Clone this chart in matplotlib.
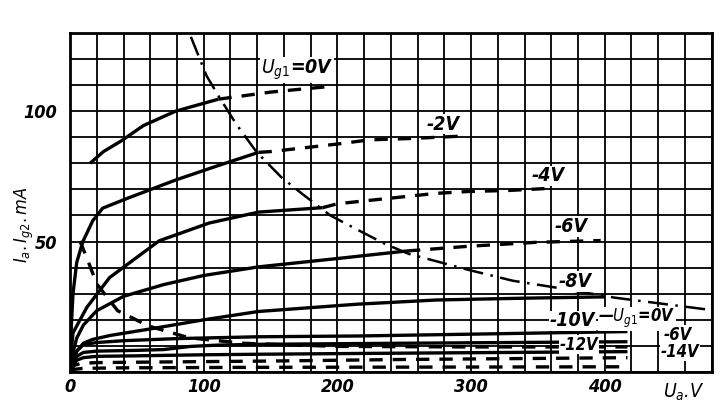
import numpy as np
import matplotlib.pyplot as plt

# анодные характеристики, сплошные участки (Ua в В, Ia в мА)
ua_0 = [15, 25, 38, 55, 79, 111]
ia_0 = [80, 84.5, 88.5, 94.5, 100, 104.6]
ua_2 = [0, 1, 2.2, 5, 9.6, 17, 24.4, 42, 79, 110, 141]
ia_2 = [0, 18, 30, 42, 50, 58, 62.8, 66.4, 73.6, 79, 84.2]
ua_4 = [0, 1, 2.2, 12.6, 29.6, 66.7, 104, 141, 189]
ia_4 = [0, 8, 15, 24.8, 36.2, 50.3, 57.1, 61.3, 63]
ua_6 = [0, 2, 5, 10, 20, 40, 70, 100, 141, 200, 252]
ia_6 = [0, 7, 13, 18, 23.5, 29, 33.5, 37, 40.3, 43.5, 46.4]
ua_8 = [0, 2, 5, 10, 17, 30, 60, 100, 141, 215, 274, 340, 400]
ia_8 = [0, 4, 8, 11, 12.5, 14, 16.5, 20, 23.2, 26, 27.6, 28.3, 28.8]
ua_10 = [0, 2, 5, 10, 20, 40, 80, 141, 215, 300, 417]
ia_10 = [0, 4, 8, 10.5, 11.3, 12, 12.8, 13.5, 13.8, 14.5, 15.5]
ua_12 = [0, 2, 5, 10, 20, 50, 70, 90, 110, 141, 215, 300, 417]
ia_12 = [0, 3, 6, 7.5, 8, 8.3, 8.6, 9.8, 10.3, 10.6, 10.9, 11.2, 11.6]
ua_14 = [0, 2, 5, 10, 20, 50, 100, 141, 215, 300, 417]
ia_14 = [0, 2.5, 4.5, 5.5, 6, 6.2, 6.6, 6.8, 7.1, 7.4, 7.8]

# продолжения за пределом допустимой мощности (пунктир)
ua_0_ext = [111, 124, 150, 170, 195]
ia_0_ext = [104.6, 105.5, 107.3, 108.3, 109.5]
ua_2_ext = [141, 150, 176, 200, 224, 254, 296]
ia_2_ext = [84.2, 84.5, 86, 87.4, 89, 89.5, 90.5]
ua_4_ext = [189, 200, 274, 298, 328, 355]
ia_4_ext = [63, 64.5, 68.5, 69.2, 69.6, 70.3]
ua_6_ext = [252, 265, 298, 348, 397]
ia_6_ext = [46.4, 46.9, 48.2, 49.7, 50.4]

# ток второй сетки (пунктир)
ua_g2_0 = [7.4, 12.6, 20, 35.6, 59, 89, 130, 200, 300, 417]
ig2_0 = [50.2, 43.7, 33.8, 23.5, 17.6, 13.1, 11, 9.8, 9.6, 9.6]
ua_g2_6 = [0, 3, 8, 20, 60, 150, 250, 350, 417]
ig2_6 = [0, 2.5, 3.3, 3.6, 3.8, 4.2, 4.8, 5.2, 5.5]
ua_g2_14 = [0, 3, 10, 40, 150, 300, 417]
ig2_14 = [0, 1, 1.4, 1.6, 1.8, 1.9, 2.0]

# кривая допустимой мощности рассеяния анода (штрих-пунктир)
ua_pa = [90.4, 102.2, 111.1, 124.4, 139.3, 157.8, 171.9, 194.8, 212.6, 234.8,
         253.3, 298.5, 331.1, 363, 407.4, 476]
ia_pa = [128.5, 113.5, 105.8, 95, 84.5, 74.8, 69, 60, 55.2, 49.3,
         45.3, 39.1, 35, 32.4, 28.5, 24]

x_labels = ['0', '100', '200', '300', '400']
y_labels = ['50', '100']

plt.rcParams['font.family'] = ['DejaVu Sans']
plt.rcParams['font.stretch'] = 'condensed'
plt.rcParams['mathtext.fontset'] = 'custom'
plt.rcParams['mathtext.it'] = 'DejaVu Sans:italic'
plt.rcParams['mathtext.rm'] = 'DejaVu Sans'

fig = plt.figure(figsize=(7.25, 4.13), dpi=100)
ax = fig.add_axes([0.0966, 0.0993, 0.885, 0.821])

lw = 2.4
for u, i in [(ua_0, ia_0), (ua_2, ia_2), (ua_4, ia_4), (ua_6, ia_6), (ua_8, ia_8),
             (ua_10, ia_10), (ua_12, ia_12), (ua_14, ia_14)]:
    ax.plot(u, i, color='black', lw=lw, solid_capstyle='butt')

for u, i in [(ua_0_ext, ia_0_ext), (ua_2_ext, ia_2_ext), (ua_4_ext, ia_4_ext),
             (ua_6_ext, ia_6_ext), (ua_g2_0, ig2_0), (ua_g2_6, ig2_6), (ua_g2_14, ig2_14)]:
    ax.plot(u, i, color='black', lw=lw, linestyle=(0, (4, 3)))

ax.plot(ua_pa, ia_pa, color='black', lw=1.8, linestyle=(0, (8, 3, 1, 3)))

# сетка
xt = np.arange(0, 481, 20)
yt = np.arange(0, 131, 10)
ax.set_xticks(xt)
ax.set_yticks(yt)
ax.set_xticklabels([str(v) if str(v) in x_labels else '' for v in xt])
ax.set_yticklabels([str(v) if str(v) in y_labels else '' for v in yt])
ax.grid(True, color='black', lw=1.3)
ax.tick_params(length=0, pad=4)
ax.tick_params(axis='y', pad=9)
for lab in ax.get_xticklabels() + ax.get_yticklabels():
    lab.set_style('italic')
    lab.set_fontsize(13)
    lab.set_weight('bold')
for s in ax.spines.values():
    s.set_linewidth(2)
ax.set_xlim(0, 480)
ax.set_ylim(0, 130)

box = dict(facecolor='white', edgecolor='none', pad=0.5)
tkw = dict(style='italic', fontsize=14, weight='bold', ha='center', va='center', bbox=box)
ax.text(170, 115.7, r'$U_{g1}$=0V', **tkw)
ax.text(279, 95, '-2V', **tkw)
ax.text(358, 75.2, '-4V', **tkw)
ax.text(375, 55.8, '-6V', **tkw)
ax.text(378, 34.6, '-8V', **tkw)
ax.text(376, 19.6, '-10V', **tkw)
skw = dict(tkw, fontsize=12)
ax.text(381, 10.5, '-12V', **skw)
ax.text(424, 20.4, r'—$U_{g1}$=0V', **skw)
ax.text(455, 14.2, '-6V', **skw)
ax.text(456, 7.8, '-14V', **skw)

ax.annotate(r'$U_a$.V', xy=(459, -0.03), xycoords=('data', 'axes fraction'),
            style='italic', fontsize=14, ha='center', va='top')
fig.text(0.033, 0.455, r'$I_a.I_{g2}.mA$', rotation=90, style='italic',
         fontsize=13, ha='center', va='center')

fig.savefig('out.png', dpi=100)
